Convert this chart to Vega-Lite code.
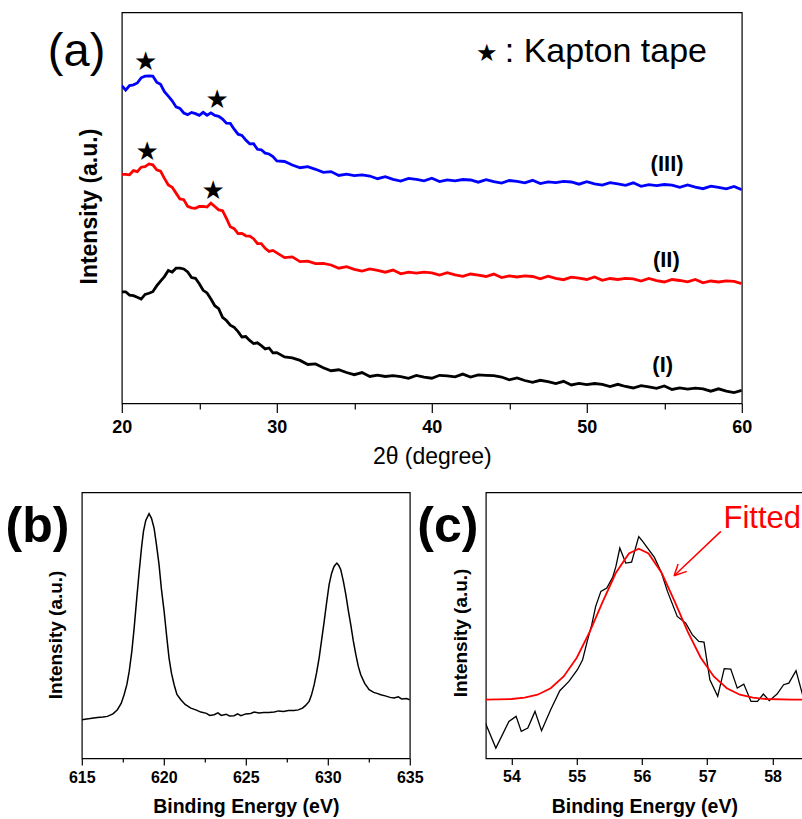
{
"$schema": "https://vega.github.io/schema/vega-lite/v6.json",
"padding": {"left": 4.8, "top": 11.4, "right": 0, "bottom": 0},
"config": {
 "font": "Liberation Sans",
 "view": {"stroke": "#000000", "strokeWidth": 1.2},
 "axis": {"grid": false, "domain": false, "tickColor": "#000000", "tickWidth": 1.2, "labelColor": "#000000", "titleColor": "#000000", "labelFont": "Liberation Sans", "titleFont": "Liberation Sans", "labelFlush": false, "labelOverlap": false}
},
"datasets": {
 "xrd": [
  {"s":"III","t":20.0,"i":317.8},{"s":"III","t":20.25,"i":313.3},{"s":"III","t":20.5,"i":317.8},{"s":"III","t":20.75,"i":318.6},{"s":"III","t":21.0,"i":320.4},{"s":"III","t":21.25,"i":325.6},{"s":"III","t":21.5,"i":327.3},{"s":"III","t":21.75,"i":327.6},{"s":"III","t":22.0,"i":327.4},{"s":"III","t":22.25,"i":321.3},{"s":"III","t":22.5,"i":319.1},{"s":"III","t":22.75,"i":311.8},{"s":"III","t":23.0,"i":307.2},{"s":"III","t":23.25,"i":302.6},{"s":"III","t":23.5,"i":296.5},{"s":"III","t":23.75,"i":295},{"s":"III","t":24.0,"i":290.4},{"s":"III","t":24.25,"i":288.8},{"s":"III","t":24.5,"i":291},{"s":"III","t":24.75,"i":289.8},{"s":"III","t":25.0,"i":288.1},{"s":"III","t":25.25,"i":291.1},{"s":"III","t":25.5,"i":288.2},{"s":"III","t":25.75,"i":290.6},{"s":"III","t":26.0,"i":288},{"s":"III","t":26.25,"i":287.1},{"s":"III","t":26.5,"i":284.4},{"s":"III","t":26.75,"i":280.2},{"s":"III","t":27.0,"i":280},{"s":"III","t":27.25,"i":274.2},{"s":"III","t":27.5,"i":269.2},{"s":"III","t":27.75,"i":268},{"s":"III","t":28.0,"i":263.3},{"s":"III","t":28.25,"i":259.6},{"s":"III","t":28.5,"i":259.8},{"s":"III","t":28.75,"i":254.1},{"s":"III","t":29.0,"i":253.6},{"s":"III","t":29.25,"i":250.3},{"s":"III","t":29.5,"i":249.4},{"s":"III","t":29.75,"i":246.8},{"s":"III","t":30.0,"i":242.5},
  {"s":"III","t":30.5,"i":241.9},{"s":"III","t":31.0,"i":238.4},{"s":"III","t":31.5,"i":235.7},{"s":"III","t":32.0,"i":236.7},{"s":"III","t":32.5,"i":234.1},{"s":"III","t":33.0,"i":231},{"s":"III","t":33.5,"i":231.8},{"s":"III","t":34.0,"i":227.9},{"s":"III","t":34.5,"i":229.2},{"s":"III","t":35.0,"i":227.8},{"s":"III","t":35.5,"i":228.5},{"s":"III","t":36.0,"i":227.4},{"s":"III","t":36.5,"i":224.7},{"s":"III","t":37.0,"i":226.7},{"s":"III","t":37.5,"i":224.1},{"s":"III","t":38.0,"i":222.4},{"s":"III","t":38.5,"i":225},{"s":"III","t":39.0,"i":224},{"s":"III","t":39.5,"i":222.6},{"s":"III","t":40.0,"i":225.2},{"s":"III","t":40.5,"i":221.8},{"s":"III","t":41.0,"i":223.6},{"s":"III","t":41.5,"i":222.6},{"s":"III","t":42.0,"i":223.9},{"s":"III","t":42.5,"i":223.4},{"s":"III","t":43.0,"i":221.2},{"s":"III","t":43.5,"i":223.7},{"s":"III","t":44.0,"i":221.7},{"s":"III","t":44.5,"i":220.3},{"s":"III","t":45.0,"i":222.9},{"s":"III","t":45.5,"i":222},{"s":"III","t":46.0,"i":220.6},{"s":"III","t":46.5,"i":223.1},{"s":"III","t":47.0,"i":219.8},{"s":"III","t":47.5,"i":221.6},{"s":"III","t":48.0,"i":220.7},{"s":"III","t":48.5,"i":222},{"s":"III","t":49.0,"i":221.4},{"s":"III","t":49.5,"i":219.2},{"s":"III","t":50.0,"i":221.7},{"s":"III","t":50.5,"i":219.6},{"s":"III","t":51.0,"i":218.3},{"s":"III","t":51.5,"i":220.7},{"s":"III","t":52.0,"i":219.6},{"s":"III","t":52.5,"i":218.1},{"s":"III","t":53.0,"i":220.6},{"s":"III","t":53.5,"i":217.1},{"s":"III","t":54.0,"i":218.8},{"s":"III","t":54.5,"i":217.7},{"s":"III","t":55.0,"i":218.9},{"s":"III","t":55.5,"i":218.2},{"s":"III","t":56.0,"i":216},{"s":"III","t":56.5,"i":218.4},{"s":"III","t":57.0,"i":216.2},{"s":"III","t":57.5,"i":214.7},{"s":"III","t":58.0,"i":217.2},{"s":"III","t":58.5,"i":216.1},{"s":"III","t":59.0,"i":214.6},{"s":"III","t":59.5,"i":217},{"s":"III","t":60.0,"i":213.6},
  {"s":"II","t":20.0,"i":229.1},{"s":"II","t":20.25,"i":229.1},{"s":"II","t":20.5,"i":228.6},{"s":"II","t":20.75,"i":232.8},{"s":"II","t":21.0,"i":231.8},{"s":"II","t":21.25,"i":236.2},{"s":"II","t":21.5,"i":236.8},{"s":"II","t":21.75,"i":239.5},{"s":"II","t":22.0,"i":238.6},{"s":"II","t":22.25,"i":233.6},{"s":"II","t":22.5,"i":232.3},{"s":"II","t":22.75,"i":225},{"s":"II","t":23.0,"i":218.4},{"s":"II","t":23.25,"i":216.1},{"s":"II","t":23.5,"i":210.3},{"s":"II","t":23.75,"i":204.4},{"s":"II","t":24.0,"i":203.7},{"s":"II","t":24.25,"i":197},{"s":"II","t":24.5,"i":195.6},{"s":"II","t":24.75,"i":195.2},{"s":"II","t":25.0,"i":196.9},{"s":"II","t":25.25,"i":197.1},{"s":"II","t":25.5,"i":196.3},{"s":"II","t":25.75,"i":200.3},{"s":"II","t":26.0,"i":196.9},{"s":"II","t":26.25,"i":193.5},{"s":"II","t":26.5,"i":192.7},{"s":"II","t":26.75,"i":185},{"s":"II","t":27.0,"i":176.6},{"s":"II","t":27.25,"i":174.7},{"s":"II","t":27.5,"i":169.8},{"s":"II","t":27.75,"i":170},{"s":"II","t":28.0,"i":167.6},{"s":"II","t":28.25,"i":167.2},{"s":"II","t":28.5,"i":164.7},{"s":"II","t":28.75,"i":159.9},{"s":"II","t":29.0,"i":159.8},{"s":"II","t":29.25,"i":155.1},{"s":"II","t":29.5,"i":152},{"s":"II","t":29.75,"i":153},{"s":"II","t":30.0,"i":150.5},
  {"s":"II","t":30.5,"i":145.8},{"s":"II","t":31.0,"i":146.5},{"s":"II","t":31.5,"i":141.8},{"s":"II","t":32.0,"i":142.2},{"s":"II","t":32.5,"i":139.8},{"s":"II","t":33.0,"i":140},{"s":"II","t":33.5,"i":138.4},{"s":"II","t":34.0,"i":135.2},{"s":"II","t":34.5,"i":136.7},{"s":"II","t":35.0,"i":134.1},{"s":"II","t":35.5,"i":132.3},{"s":"II","t":36.0,"i":134.4},{"s":"II","t":36.5,"i":133},{"s":"II","t":37.0,"i":131.2},{"s":"II","t":37.5,"i":133.3},{"s":"II","t":38.0,"i":129.6},{"s":"II","t":38.5,"i":131.3},{"s":"II","t":39.0,"i":130.2},{"s":"II","t":39.5,"i":131.3},{"s":"II","t":40.0,"i":130.6},{"s":"II","t":40.5,"i":128.3},{"s":"II","t":41.0,"i":130.7},{"s":"II","t":41.5,"i":128.5},{"s":"II","t":42.0,"i":127},{"s":"II","t":42.5,"i":129.4},{"s":"II","t":43.0,"i":128.3},{"s":"II","t":43.5,"i":126.9},{"s":"II","t":44.0,"i":129.3},{"s":"II","t":44.5,"i":125.8},{"s":"II","t":45.0,"i":127.5},{"s":"II","t":45.5,"i":126.4},{"s":"II","t":46.0,"i":127.5},{"s":"II","t":46.5,"i":126.9},{"s":"II","t":47.0,"i":124.6},{"s":"II","t":47.5,"i":127.2},{"s":"II","t":48.0,"i":125.1},{"s":"II","t":48.5,"i":123.7},{"s":"II","t":49.0,"i":126.2},{"s":"II","t":49.5,"i":125.3},{"s":"II","t":50.0,"i":123.9},{"s":"II","t":50.5,"i":126.4},{"s":"II","t":51.0,"i":123},{"s":"II","t":51.5,"i":124.9},{"s":"II","t":52.0,"i":123.9},{"s":"II","t":52.5,"i":125.1},{"s":"II","t":53.0,"i":124.5},{"s":"II","t":53.5,"i":122.4},{"s":"II","t":54.0,"i":124.9},{"s":"II","t":54.5,"i":122.8},{"s":"II","t":55.0,"i":121.4},{"s":"II","t":55.5,"i":123.9},{"s":"II","t":56.0,"i":122.9},{"s":"II","t":56.5,"i":121.5},{"s":"II","t":57.0,"i":124},{"s":"II","t":57.5,"i":120.6},{"s":"II","t":58.0,"i":122.4},{"s":"II","t":58.5,"i":121.4},{"s":"II","t":59.0,"i":122.6},{"s":"II","t":59.5,"i":122},{"s":"II","t":60.0,"i":119.8},
  {"s":"I","t":20.0,"i":111.6},{"s":"I","t":20.25,"i":111.6},{"s":"I","t":20.5,"i":108.3},{"s":"I","t":20.75,"i":107.7},{"s":"I","t":21.0,"i":106.1},{"s":"I","t":21.25,"i":104.3},{"s":"I","t":21.5,"i":109},{"s":"I","t":21.75,"i":110.1},{"s":"I","t":22.0,"i":111.7},{"s":"I","t":22.25,"i":117.5},{"s":"I","t":22.5,"i":122.3},{"s":"I","t":22.75,"i":126.8},{"s":"I","t":23.0,"i":132.9},{"s":"I","t":23.25,"i":131.4},{"s":"I","t":23.5,"i":135.2},{"s":"I","t":23.75,"i":135.3},{"s":"I","t":24.0,"i":134.4},{"s":"I","t":24.25,"i":131.5},{"s":"I","t":24.5,"i":125.9},{"s":"I","t":24.75,"i":125.1},{"s":"I","t":25.0,"i":119.6},{"s":"I","t":25.25,"i":113.1},{"s":"I","t":25.5,"i":110.5},{"s":"I","t":25.75,"i":104.4},{"s":"I","t":26.0,"i":97.7},{"s":"I","t":26.25,"i":94.8},{"s":"I","t":26.5,"i":86},{"s":"I","t":26.75,"i":82.9},{"s":"I","t":27.0,"i":78.3},{"s":"I","t":27.25,"i":76},{"s":"I","t":27.5,"i":71.8},{"s":"I","t":27.75,"i":66.4},{"s":"I","t":28.0,"i":66.9},{"s":"I","t":28.25,"i":63},{"s":"I","t":28.5,"i":59.8},{"s":"I","t":28.75,"i":60.6},{"s":"I","t":29.0,"i":57.7},{"s":"I","t":29.25,"i":54.5},{"s":"I","t":29.5,"i":55.4},{"s":"I","t":29.75,"i":50.5},{"s":"I","t":30.0,"i":50.8},
  {"s":"I","t":30.5,"i":46.5},{"s":"I","t":31.0,"i":45.5},{"s":"I","t":31.5,"i":43},{"s":"I","t":32.0,"i":38.9},{"s":"I","t":32.5,"i":39.5},{"s":"I","t":33.0,"i":35.7},{"s":"I","t":33.5,"i":32.7},{"s":"I","t":34.0,"i":33.6},{"s":"I","t":34.5,"i":30.9},{"s":"I","t":35.0,"i":28.7},{"s":"I","t":35.5,"i":30.8},{"s":"I","t":36.0,"i":26.9},{"s":"I","t":36.5,"i":28.3},{"s":"I","t":37.0,"i":26.9},{"s":"I","t":37.5,"i":27.7},{"s":"I","t":38.0,"i":26.8},{"s":"I","t":38.5,"i":25},{"s":"I","t":39.0,"i":27.9},{"s":"I","t":39.5,"i":26.2},{"s":"I","t":40.0,"i":25.2},{"s":"I","t":40.5,"i":28.1},{"s":"I","t":41.0,"i":27.5},{"s":"I","t":41.5,"i":26.5},{"s":"I","t":42.0,"i":29.3},{"s":"I","t":42.5,"i":26.4},{"s":"I","t":43.0,"i":28.6},{"s":"I","t":43.5,"i":28.1},{"s":"I","t":44.0,"i":27.7},{"s":"I","t":44.5,"i":26.4},{"s":"I","t":45.0,"i":23.5},{"s":"I","t":45.5,"i":25.5},{"s":"I","t":46.0,"i":22.9},{"s":"I","t":46.5,"i":21.1},{"s":"I","t":47.0,"i":23.1},{"s":"I","t":47.5,"i":21.7},{"s":"I","t":48.0,"i":19.9},{"s":"I","t":48.5,"i":22.1},{"s":"I","t":49.0,"i":18.4},{"s":"I","t":49.5,"i":20},{"s":"I","t":50.0,"i":18.8},{"s":"I","t":50.5,"i":19.9},{"s":"I","t":51.0,"i":19.1},{"s":"I","t":51.5,"i":16.8},{"s":"I","t":52.0,"i":19.1},{"s":"I","t":52.5,"i":16.9},{"s":"I","t":53.0,"i":15.4},{"s":"I","t":53.5,"i":17.8},{"s":"I","t":54.0,"i":16.6},{"s":"I","t":54.5,"i":15.1},{"s":"I","t":55.0,"i":17.4},{"s":"I","t":55.5,"i":13.9},{"s":"I","t":56.0,"i":15.5},{"s":"I","t":56.5,"i":14.3},{"s":"I","t":57.0,"i":15.3},{"s":"I","t":57.5,"i":14.6},{"s":"I","t":58.0,"i":12.2},{"s":"I","t":58.5,"i":14.6},{"s":"I","t":59.0,"i":12.3},{"s":"I","t":59.5,"i":10.8},{"s":"I","t":60.0,"i":13.1}
 ],
 "bxps": [
  {"e":615,"v":38.7},{"e":615.5,"v":39.8},{"e":615.95,"v":41},{"e":616.3,"v":41.5},{"e":616.56,"v":42},{"e":616.9,"v":44.5},{"e":617.17,"v":48.7},{"e":617.4,"v":55},{"e":617.58,"v":63.7},{"e":617.75,"v":74},{"e":617.89,"v":87},{"e":618.05,"v":107},{"e":618.19,"v":130},{"e":618.35,"v":160},{"e":618.5,"v":187},{"e":618.65,"v":212},{"e":618.76,"v":227},{"e":618.9,"v":238},{"e":619.1,"v":244.7},{"e":619.25,"v":240},{"e":619.41,"v":230},{"e":619.55,"v":214},{"e":619.71,"v":193.7},{"e":619.85,"v":170},{"e":620.02,"v":147},{"e":620.17,"v":123},{"e":620.32,"v":100.3},{"e":620.47,"v":85},{"e":620.63,"v":73.7},{"e":620.8,"v":64},{"e":621.04,"v":58.7},{"e":621.3,"v":54},{"e":621.65,"v":50.3},{"e":621.95,"v":48.5},{"e":622.26,"v":46.3},{"e":622.6,"v":45},{"e":622.8,"v":43},{"e":623.07,"v":43.7},{"e":623.3,"v":45.5},{"e":623.5,"v":43},{"e":623.8,"v":44.2},{"e":624.0,"v":42.5},{"e":624.29,"v":42.7},{"e":624.5,"v":44.5},{"e":624.7,"v":42.8},{"e":625.0,"v":44.5},{"e":625.3,"v":45},{"e":625.51,"v":46.3},{"e":625.8,"v":45.5},{"e":626.1,"v":45.8},{"e":626.4,"v":46},{"e":626.73,"v":46.3},{"e":627.0,"v":47.5},{"e":627.3,"v":47},{"e":627.6,"v":47.8},{"e":627.95,"v":48},{"e":628.2,"v":48.5},{"e":628.46,"v":50.3},{"e":628.65,"v":53},{"e":628.86,"v":57},{"e":629.0,"v":63},{"e":629.17,"v":73.7},{"e":629.32,"v":86},{"e":629.47,"v":100.3},{"e":629.62,"v":118},{"e":629.78,"v":137},{"e":629.93,"v":156},{"e":630.08,"v":173.7},{"e":630.23,"v":185},{"e":630.38,"v":192},{"e":630.55,"v":195.3},{"e":630.67,"v":193},{"e":630.79,"v":188.7},{"e":630.95,"v":177},{"e":631.1,"v":163.7},{"e":631.25,"v":148},{"e":631.4,"v":133.7},{"e":631.55,"v":118},{"e":631.71,"v":103.7},{"e":631.86,"v":92},{"e":632.01,"v":83.7},{"e":632.25,"v":75},{"e":632.52,"v":68.7},{"e":632.8,"v":66},{"e":633.0,"v":65},{"e":633.23,"v":63.7},{"e":633.5,"v":62.5},{"e":633.8,"v":61},{"e":634.04,"v":60.3},{"e":634.3,"v":61.5},{"e":634.5,"v":59.5},{"e":634.8,"v":59.8},{"e":635,"v":58.7}
 ],
 "cexp": [
  {"e":53.6,"v":35.3},{"e":53.76,"v":10.3},{"e":53.96,"v":37},{"e":54.07,"v":42},{"e":54.15,"v":27},{"e":54.25,"v":30.3},{"e":54.36,"v":47},{"e":54.46,"v":27.7},{"e":54.6,"v":48.7},{"e":54.74,"v":67.7},{"e":54.88,"v":77},{"e":55.01,"v":88.7},{"e":55.09,"v":98.7},{"e":55.16,"v":117},{"e":55.23,"v":133.7},{"e":55.29,"v":152},{"e":55.37,"v":167},{"e":55.46,"v":170.3},{"e":55.55,"v":181},{"e":55.6,"v":192},{"e":55.66,"v":210.3},{"e":55.75,"v":195.3},{"e":55.84,"v":196.3},{"e":55.95,"v":221.7},{"e":56.01,"v":217},{"e":56.19,"v":201},{"e":56.29,"v":187},{"e":56.39,"v":167},{"e":56.54,"v":142},{"e":56.67,"v":135.3},{"e":56.77,"v":123.7},{"e":56.87,"v":117},{"e":56.95,"v":116.3},{"e":57.04,"v":78.7},{"e":57.16,"v":62},{"e":57.26,"v":89.7},{"e":57.36,"v":89.3},{"e":57.46,"v":70.3},{"e":57.56,"v":74.3},{"e":57.67,"v":57},{"e":57.77,"v":57},{"e":57.86,"v":64.3},{"e":57.95,"v":57.7},{"e":58.07,"v":64.3},{"e":58.17,"v":73.7},{"e":58.25,"v":75.3},{"e":58.36,"v":87.7},{"e":58.46,"v":63.7}
 ],
 "cfit": [
  {"e":53.6,"v":58.8},{"e":54.0,"v":59.4},{"e":54.2,"v":60.7},{"e":54.4,"v":63.7},{"e":54.6,"v":70.1},{"e":54.8,"v":81.9},{"e":55.0,"v":100.7},{"e":55.2,"v":126.7},{"e":55.4,"v":157.1},{"e":55.6,"v":185.6},{"e":55.8,"v":205},{"e":55.95,"v":209.7},{"e":56.1,"v":205},{"e":56.3,"v":185.6},{"e":56.5,"v":157.1},{"e":56.7,"v":126.7},{"e":56.9,"v":100.7},{"e":57.1,"v":81.9},{"e":57.3,"v":70.1},{"e":57.5,"v":63.7},{"e":57.7,"v":60.7},{"e":57.9,"v":59.4},{"e":58.3,"v":58.8},{"e":58.46,"v":58.7}
 ]
},
"spacing": 22,
"vconcat": [
 {
  "hconcat": [
   {"width": 39.2, "height": 1, "view": {"stroke": null}, "data": {"values": []}, "mark": "point", "encoding": {}},
   {
    "width": 620, "height": 391,
    "encoding": {
     "x": {"field": "t", "type": "quantitative", "scale": {"domain": [20, 60], "nice": false, "zero": false},
       "axis": {"values": [20,25,30,35,40,45,50,55,60], "labelExpr": "datum.value % 10 === 0 ? datum.label : ''",
         "tickSize": {"condition": {"test": "datum.value % 10 === 0", "value": 9}, "value": 5.5},
         "labelFontSize": 18, "labelFontWeight": "bold", "labelPadding": 5.8,
         "title": "2θ (degree)", "titleFontSize": 23, "titleFontWeight": "normal", "titleY": 42.1}},
     "y": {"field": "i", "type": "quantitative", "scale": {"domain": [0, 391], "nice": false, "zero": false},
       "axis": {"title": "Intensity (a.u.)", "labels": false, "ticks": false, "titleFontSize": 23, "titleFontWeight": "bold", "titleX": -20.3, "titleY": 193.7}}
    },
    "layer": [
     {"data": {"name": "xrd"}, "mark": {"type": "line", "strokeWidth": 2.8, "clip": true},
      "encoding": {"color": {"field": "s", "type": "nominal", "scale": {"domain": ["I","II","III"], "range": ["#000000","#ff0000","#0000ff"]}, "legend": null}, "detail": {"field": "s"}}},
     {"data": {"values": [{"t":21.53,"i":341.3},{"t":26.15,"i":303.7},{"t":21.63,"i":251.3},{"t":25.89,"i":212}]},
      "mark": {"type": "text", "text": "★", "font": "DejaVu Sans", "fontSize": 26, "align": "center", "baseline": "middle", "color": "#000000"}},
     {"data": {"values": [{"t":43.55,"i":349.7}]},
      "mark": {"type": "text", "text": "★", "font": "DejaVu Sans", "fontSize": 24, "align": "center", "baseline": "middle", "color": "#000000"}},
     {"data": {"values": [{"t":44.71,"i":341.3,"lab":": Kapton tape"}]},
      "mark": {"type": "text", "fontSize": 34, "align": "left", "baseline": "alphabetic", "color": "#000000"},
      "encoding": {"text": {"field": "lab"}}},
     {"data": {"values": [{"t":55.18,"i":232.6,"lab":"(III)"},{"t":55.13,"i":135.9,"lab":"(II)"},{"t":54.9,"i":30.9,"lab":"(I)"}]},
      "mark": {"type": "text", "fontSize": 22, "fontWeight": "bold", "align": "center", "baseline": "alphabetic", "color": "#000000"},
      "encoding": {"text": {"field": "lab"}}},
     {"data": {"values": [{"t":15.23,"i":337,"lab":"(a)"}]},
      "mark": {"type": "text", "fontSize": 47, "align": "left", "baseline": "alphabetic", "color": "#000000"},
      "encoding": {"text": {"field": "lab"}}}
    ]
   }
  ],
  "spacing": 0, "bounds": "flush"
 },
 {
  "hconcat": [
   {
    "width": 328, "height": 266,
    "encoding": {
     "x": {"field": "e", "type": "quantitative", "scale": {"domain": [615, 635], "nice": false, "zero": false},
       "axis": {"values": [615,617.5,620,622.5,625,627.5,630,632.5,635], "labelExpr": "datum.value % 5 === 0 ? datum.label : ''",
         "tickSize": {"condition": {"test": "datum.value % 5 === 0", "value": 6.7}, "value": 3.5},
         "labelFontSize": 16, "labelFontWeight": "bold", "labelPadding": 4.4,
         "title": "Binding Energy (eV)", "titleFontSize": 19.5, "titleFontWeight": "bold", "titleY": 39.5}},
     "y": {"field": "v", "type": "quantitative", "scale": {"domain": [0, 266], "nice": false, "zero": false},
       "axis": {"title": "Intensity (a.u.)", "labels": false, "ticks": false, "titleFontSize": 19, "titleFontWeight": "bold", "titleX": -16, "titleY": 142}}
    },
    "layer": [
     {"data": {"name": "bxps"}, "mark": {"type": "line", "strokeWidth": 1.5, "color": "#000000", "clip": true}},
     {"data": {"values": [{"e":610.35,"v":216.5,"lab":"(b)"}]},
      "mark": {"type": "text", "fontSize": 50, "fontWeight": "bold", "align": "left", "baseline": "alphabetic", "color": "#000000"},
      "encoding": {"text": {"field": "lab"}}}
    ]
   },
   {
    "width": 317, "height": 266,
    "encoding": {
     "x": {"field": "e", "type": "quantitative", "scale": {"domain": [53.606, 58.464], "nice": false, "zero": false},
       "axis": {"values": [54,54.5,55,55.5,56,56.5,57,57.5,58], "format": "d", "labelExpr": "datum.value % 1 === 0 ? datum.label : ''",
         "tickSize": {"condition": {"test": "datum.value % 1 === 0", "value": 6}, "value": 3.5},
         "labelFontSize": 16, "labelFontWeight": "bold", "labelPadding": 3.7,
         "title": "Binding Energy (eV)", "titleFontSize": 19.5, "titleFontWeight": "bold", "titleY": 39.5}},
     "y": {"field": "v", "type": "quantitative", "scale": {"domain": [0, 266], "nice": false, "zero": false},
       "axis": {"title": "Intensity (a.u.)", "labels": false, "ticks": false, "titleFontSize": 19, "titleFontWeight": "bold", "titleX": -15, "titleY": 140}}
    },
    "layer": [
     {"data": {"name": "cexp"}, "mark": {"type": "line", "strokeWidth": 1.3, "color": "#000000", "clip": true}},
     {"data": {"name": "cfit"}, "mark": {"type": "line", "strokeWidth": 1.8, "color": "#ff0000", "clip": true}},
     {"data": {"values": [{"e":57.208,"v":227,"e2":56.492,"v2":182.7},{"e":56.492,"v":182.7,"e2":56.553,"v2":194.3},{"e":56.492,"v":182.7,"e2":56.686,"v2":187}]},
      "mark": {"type": "rule", "strokeWidth": 1.5, "color": "#ff0000"},
      "encoding": {"x2": {"field": "e2"}, "y2": {"field": "v2"}}},
     {"data": {"values": [{"e":57.249,"v":230.3,"lab":"Fitted"}]},
      "mark": {"type": "text", "fontSize": 31, "align": "left", "baseline": "alphabetic", "color": "#ff0000"},
      "encoding": {"text": {"field": "lab"}}},
     {"data": {"values": [{"e":52.556,"v":216.5,"lab":"(c)"}]},
      "mark": {"type": "text", "fontSize": 50, "fontWeight": "bold", "align": "left", "baseline": "alphabetic", "color": "#000000"},
      "encoding": {"text": {"field": "lab"}}}
    ]
   }
  ],
  "spacing": 76, "bounds": "flush"
 }
]
}
